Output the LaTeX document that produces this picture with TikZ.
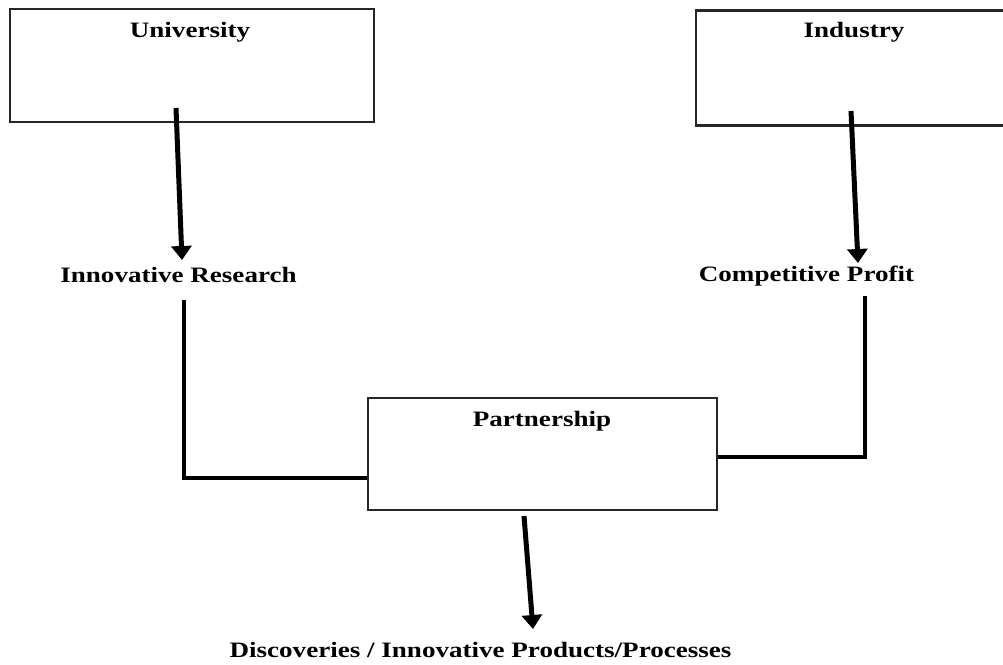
\documentclass[tikz,border=0pt]{standalone}
\usepackage{fontspec}
\setmainfont{Liberation Serif}[FakeStretch=1.23]
\usetikzlibrary{arrows.meta}

\begin{document}
\begin{tikzpicture}[x=1pt,y=-1pt,
  every text node part/.style={align=center},
  blockbox/.style={draw=black!85, line width=2.3pt, inner sep=0pt},
  caption/.style={inner sep=0pt, anchor=base, font=\fontsize{22}{26}\selectfont\bfseries},
  flow/.style={line width=5pt, -{Triangle[width=20pt,length=14pt]}},
  link/.style={line width=4pt}]
\useasboundingbox (0,0) rectangle (1003,664);
% boxes
\node [blockbox, minimum width=364pt, minimum height=113pt] (uni) at (192,65.5) {};
\node [blockbox, minimum width=316pt, minimum height=115pt] (ind) at (854,68) {};
\node [blockbox, minimum width=349pt, minimum height=112pt] (part) at (542.5,454) {};
% texts
\node [caption] (unilab) at (190,37) {University};
\node [caption] (indlab) at (854,37) {Industry};
\node [caption] (reslab) at (178.5,282) {Innovative Research};
\node [caption] (proflab) at (806.5,281) {Competitive Profit};
\node [caption] (partlab) at (542,426) {Partnership};
\node [caption] (outlab) at (480.5,657) {Discoveries / Innovative Products/Processes};
% free ends
\coordinate (unifoot) at (176,108);
\coordinate (restop) at (182,260);
\coordinate (indfoot) at (851,111);
\coordinate (proftop) at (858,263);
\coordinate (resfoot) at (184,300);
\coordinate (proffoot) at (865,296);
\coordinate (partfoot) at (524,516);
\coordinate (outtop) at (533,629);
% arrows
\draw [flow] (unifoot) -- (restop);
\draw [flow] (indfoot) -- (proftop);
\draw [flow] (partfoot) -- (outtop);
% joins into the partnership
\draw [link] (resfoot) |- ([yshift=-24pt]part.west);
\draw [link] (proffoot) |- ([yshift=-3pt]part.east);
\end{tikzpicture}
\end{document}
